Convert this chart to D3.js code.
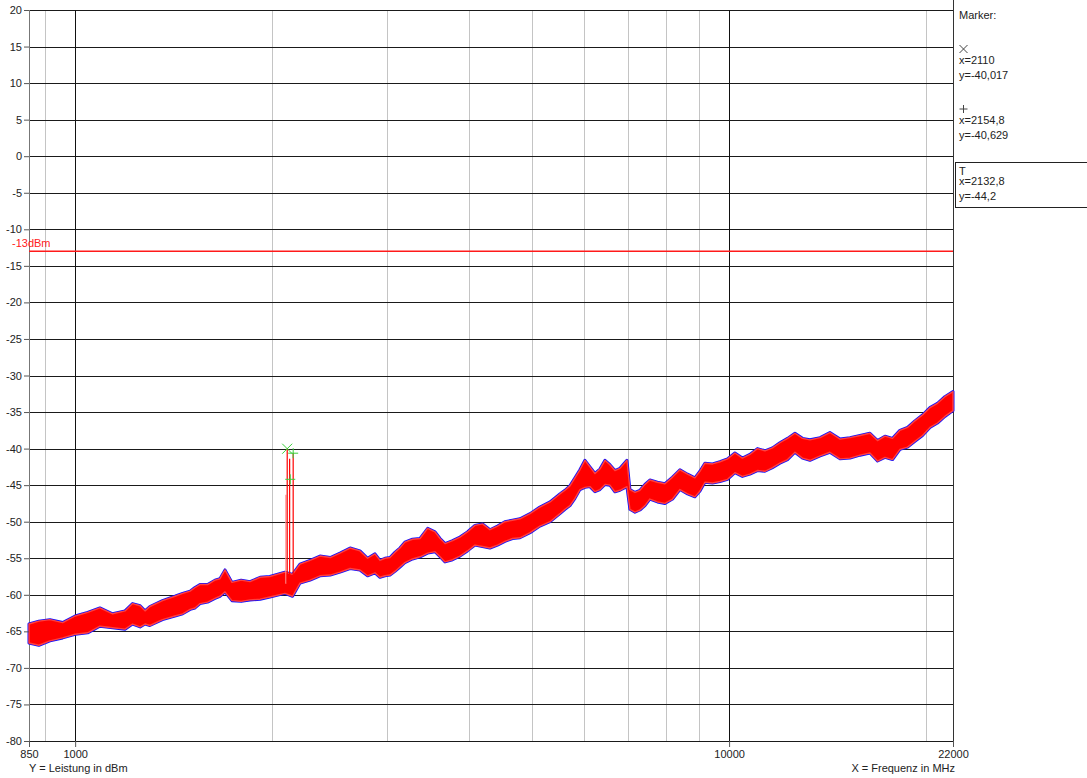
<!DOCTYPE html>
<html>
<head>
<meta charset="utf-8">
<script src="https://cdn.jsdelivr.net/npm/d3@7"></script>
<style>
  body { margin: 0; background: #fff; }
  svg { display: block; font-family: "Liberation Sans", Arial, sans-serif; }
  .axis path { display: none; }
  .axis line { stroke: #555; }
  .axis text { font-size: 11px; fill: #222; }
</style>
</head>
<body>
<svg id="chart" width="1087" height="778"></svg>
<script>
// trace: frequency (MHz) with upper / lower edge of the noise band (dBm)
var freq = [850, 880, 915, 957, 1000, 1045, 1091, 1141, 1192, 1224, 1257, 1279, 1301, 1360, 1421, 1460,
  1499, 1525, 1552, 1594, 1636, 1665, 1695, 1737, 1794, 1851, 1918, 1985, 2093, 2150, 2207, 2287,
  2368, 2455, 2541, 2633, 2726, 2800, 2874, 2925, 2977, 3030, 3083, 3138, 3193, 3280, 3368, 3460,
  3551, 3614, 3678, 3777, 3876, 3980, 4087, 4197, 4308, 4424, 4541, 4664, 4788, 4962, 5137, 5324,
  5512, 5611, 5710, 5812, 5914, 6020, 6126, 6236, 6346, 6460, 6573, 6690, 6809, 6979, 7053, 7180,
  7306, 7436, 7566, 7770, 7979, 8195, 8411, 8640, 8866, 9025, 9183, 9433, 9683, 9945, 10207, 10480,
  10760, 11050, 11345, 11650, 11960, 12285, 12610, 12950, 13295, 13780, 14260, 14780, 15306, 15860,
  16420, 16865, 17312, 17780, 18250, 18745, 19240, 19760, 20284, 20830, 21380, 22000];
var levelHi = [-64.0, -63.6, -63.4, -63.8, -62.9, -62.4, -61.8, -62.6, -62.2, -61.2, -61.5, -62.2, -61.6,
  -60.8, -60.2, -59.8, -59.5, -59.0, -58.6, -58.6, -58.0, -57.8, -56.6, -58.3, -58.0, -58.2, -57.6,
  -57.5, -56.9, -57.2, -55.8, -55.3, -54.7, -54.9, -54.3, -53.6, -54.0, -55.0, -54.4, -55.3, -55.0,
  -54.9, -54.2, -53.6, -52.8, -52.4, -52.3, -50.9, -51.4, -52.3, -53.0, -52.6, -52.1, -51.4, -50.5,
  -50.3, -51.1, -50.6, -50.0, -49.8, -49.6, -48.9, -48.0, -47.3, -46.2, -45.7, -45.1, -44.0, -42.9,
  -41.6, -42.5, -43.4, -42.8, -41.6, -42.2, -43.0, -42.7, -41.6, -45.6, -46.0, -45.7, -44.9, -44.3,
  -44.6, -44.8, -43.9, -42.9, -43.5, -44.0, -43.1, -42.0, -42.1, -41.8, -41.4, -40.6, -41.3, -40.8,
  -40.0, -40.3, -39.9, -39.2, -38.6, -37.9, -38.6, -38.8, -38.5, -37.8, -38.7, -38.5, -38.2, -37.9,
  -38.9, -38.3, -38.6, -37.5, -37.1, -36.2, -35.4, -34.4, -33.8, -32.9, -32.2];
var levelLo = [-66.6, -66.9, -66.3, -65.9, -65.4, -65.2, -64.3, -64.5, -64.7, -64.0, -64.4, -64.0, -64.2,
  -63.4, -62.9, -62.6, -62.0, -61.8, -61.2, -61.0, -60.5, -60.2, -59.6, -60.8, -60.9, -60.7, -60.6,
  -60.3, -59.8, -60.2, -58.4, -58.0, -57.4, -57.3, -56.9, -56.4, -56.6, -57.4, -57.0, -57.6, -57.4,
  -57.3, -56.8, -56.2, -55.6, -55.1, -54.8, -54.3, -54.1, -54.8, -55.5, -55.2, -54.7, -54.0, -53.2,
  -53.4, -53.6, -53.2, -52.7, -52.3, -52.2, -51.5, -50.6, -50.0, -48.9, -48.3, -47.8, -46.8, -45.6,
  -45.3, -45.2, -45.9, -45.6, -44.9, -45.0, -45.9, -45.7, -45.2, -48.3, -48.7, -48.4, -47.8, -46.9,
  -47.3, -47.5, -46.9, -45.6, -46.2, -46.6, -45.8, -44.6, -44.7, -44.5, -44.2, -43.3, -43.8, -43.5,
  -43.0, -43.1, -42.6, -42.0, -41.5, -40.5, -41.3, -41.6, -41.0, -40.5, -41.4, -41.3, -40.9, -40.6,
  -41.7, -41.2, -41.5, -40.1, -39.8, -39.0, -38.2, -37.1, -36.5, -35.6, -34.8];

// narrow carriers around 2.1 GHz
var spikeFreq = [2100, 2110, 2128, 2154.8];
var spikeTop = [-46.3, -40.0, -41.4, -40.6];
var spikeBase = -58.5;

// markers
var markerNames = ['x', '+', 'T'];
var markerFreq = [2110, 2154.8, 2132.8];
var markerLevel = [-40.017, -40.629, -44.2];
var markerText = [['x=2110', 'y=-40,017'], ['x=2154,8', 'y=-40,629'], ['x=2132,8', 'y=-44,2']];

var yTicks = [20, 15, 10, 5, 0, -5, -10, -15, -20, -25, -30, -35, -40, -45, -50, -55, -60, -65, -70, -75, -80];
var xTicks = [850, 1000, 10000, 22000];
var xMajor = [1000, 10000];
var xMinor = [900, 2000, 3000, 4000, 5000, 6000, 7000, 8000, 9000, 20000];
var limit = -13;

var svg = d3.select('#chart');

var x = d3.scaleLog().domain([850, 22000]).range([29, 953]);
var y = d3.scaleLinear().domain([-80, 20]).range([741, 10]);

var grid = svg.append('g').attr('shape-rendering', 'crispEdges');

grid.selectAll('.minor')
  .data(xMinor)
  .enter().append('line')
  .attr('x1', function (d) { return Math.round(x(d)) + 0.5; })
  .attr('x2', function (d) { return Math.round(x(d)) + 0.5; })
  .attr('y1', y(20)).attr('y2', y(-80))
  .attr('stroke', '#c4c4c4');

grid.selectAll('.hgrid')
  .data(yTicks)
  .enter().append('line')
  .attr('x1', x(850)).attr('x2', x(22000))
  .attr('y1', function (d) { return Math.round(y(d)) + 0.5; })
  .attr('y2', function (d) { return Math.round(y(d)) + 0.5; })
  .attr('stroke', '#1a1a1a');

grid.selectAll('.major')
  .data(xMajor)
  .enter().append('line')
  .attr('x1', function (d) { return Math.round(x(d)) + 0.5; })
  .attr('x2', function (d) { return Math.round(x(d)) + 0.5; })
  .attr('y1', y(20)).attr('y2', y(-80))
  .attr('stroke', '#111');

// frame: left axis gray, right border dark
grid.append('line')
  .attr('x1', 29.5).attr('x2', 29.5).attr('y1', y(20)).attr('y2', y(-80))
  .attr('stroke', '#777');
grid.append('line')
  .attr('x1', 953.5).attr('x2', 953.5).attr('y1', 0).attr('y2', y(-80))
  .attr('stroke', '#333');

// -13 dBm limit
svg.append('line')
  .attr('x1', x(850)).attr('x2', x(22000))
  .attr('y1', y(limit)).attr('y2', y(limit))
  .attr('stroke', '#ff1a1a')
  .attr('stroke-width', 1.6);
svg.append('text')
  .attr('x', 12).attr('y', y(limit) - 4)
  .attr('font-size', '11px').attr('fill', '#ff2020')
  .text('-13dBm');

// trace
var trace = freq.map(function (f, i) { return { f: f, hi: levelHi[i], lo: levelLo[i] }; });
var band = d3.area()
  .x(function (d) { return x(d.f); })
  .y0(function (d) { return y(d.lo); })
  .y1(function (d) { return y(d.hi); });

svg.append('path')
  .datum(trace)
  .attr('d', band)
  .attr('fill', '#1010ff')
  .attr('stroke', '#1010ff')
  .attr('stroke-width', 3)
  .attr('stroke-linejoin', 'round');

svg.append('path')
  .datum(trace)
  .attr('d', band)
  .attr('fill', '#ff0000')
  .attr('stroke', '#ff4040')
  .attr('stroke-width', 1.4)
  .attr('stroke-linejoin', 'round');

svg.selectAll('.spike')
  .data(spikeFreq)
  .enter().append('line')
  .attr('x1', function (d) { return x(d); })
  .attr('x2', function (d) { return x(d); })
  .attr('y1', function (d, i) { return y(spikeTop[i]); })
  .attr('y2', y(spikeBase))
  .attr('stroke', function (d, i) { return i === 0 ? '#ff9090' : '#ff0000'; })
  .attr('stroke-width', 1.2);

// markers on the plot
var green = '#3ad03a';
markerFreq.forEach(function (f, i) {
  var cx = x(f), cy = y(markerLevel[i]), s = 5;
  var p = d3.path();
  if (markerNames[i] === 'x') {
    p.moveTo(cx - s, cy - s); p.lineTo(cx + s, cy + s);
    p.moveTo(cx - s, cy + s); p.lineTo(cx + s, cy - s);
  } else {
    p.moveTo(cx - s, cy); p.lineTo(cx + s, cy);
    p.moveTo(cx, cy - s); p.lineTo(cx, cy + s);
  }
  svg.append('path').attr('d', p.toString()).attr('stroke', green).attr('fill', 'none');
});

// axes
svg.append('g')
  .attr('class', 'axis')
  .attr('transform', 'translate(29,0)')
  .call(d3.axisLeft(y).tickValues(yTicks).tickSize(5).tickPadding(2)
    .tickFormat(function (d) { return String(d); }));

svg.append('g')
  .attr('class', 'axis')
  .attr('transform', 'translate(0,741)')
  .call(d3.axisBottom(x).tickValues(xTicks).tickSize(6).tickPadding(3)
    .tickFormat(function (d) { return String(d); }));

svg.append('text')
  .attr('x', 29).attr('y', 772)
  .attr('font-size', '11px').attr('fill', '#222')
  .text('Y = Leistung in dBm');
svg.append('text')
  .attr('x', 955).attr('y', 772)
  .attr('text-anchor', 'end')
  .attr('font-size', '11px').attr('fill', '#222')
  .text('X = Frequenz in MHz');

// marker panel
var panel = svg.append('g').attr('font-size', '11px').attr('fill', '#222');
panel.append('text').attr('x', 959).attr('y', 19).text('Marker:');

var rowTop = [44, 104, 165];
rowTop.forEach(function (t, i) {
  var p = d3.path(), cx = 963.5, cy = t + 5, s = 4;
  if (markerNames[i] === 'x') {
    p.moveTo(cx - s, cy - s); p.lineTo(cx + s, cy + s);
    p.moveTo(cx - s, cy + s); p.lineTo(cx + s, cy - s);
    panel.append('path').attr('d', p.toString()).attr('stroke', '#444').attr('fill', 'none');
  } else if (markerNames[i] === '+') {
    p.moveTo(cx - s, cy); p.lineTo(cx + s, cy);
    p.moveTo(cx, cy - s); p.lineTo(cx, cy + s);
    panel.append('path').attr('d', p.toString()).attr('stroke', '#444').attr('fill', 'none');
  } else {
    panel.append('text').attr('x', 959).attr('y', t + 10).text('T');
  }
  panel.append('text').attr('x', 959).attr('y', t + 20).text(markerText[i][0]);
  panel.append('text').attr('x', 959).attr('y', t + 35).text(markerText[i][1]);
});

panel.append('rect')
  .attr('x', 955.5).attr('y', 162.5)
  .attr('width', 140).attr('height', 45)
  .attr('fill', 'none').attr('stroke', '#222');
</script>
</body>
</html>
